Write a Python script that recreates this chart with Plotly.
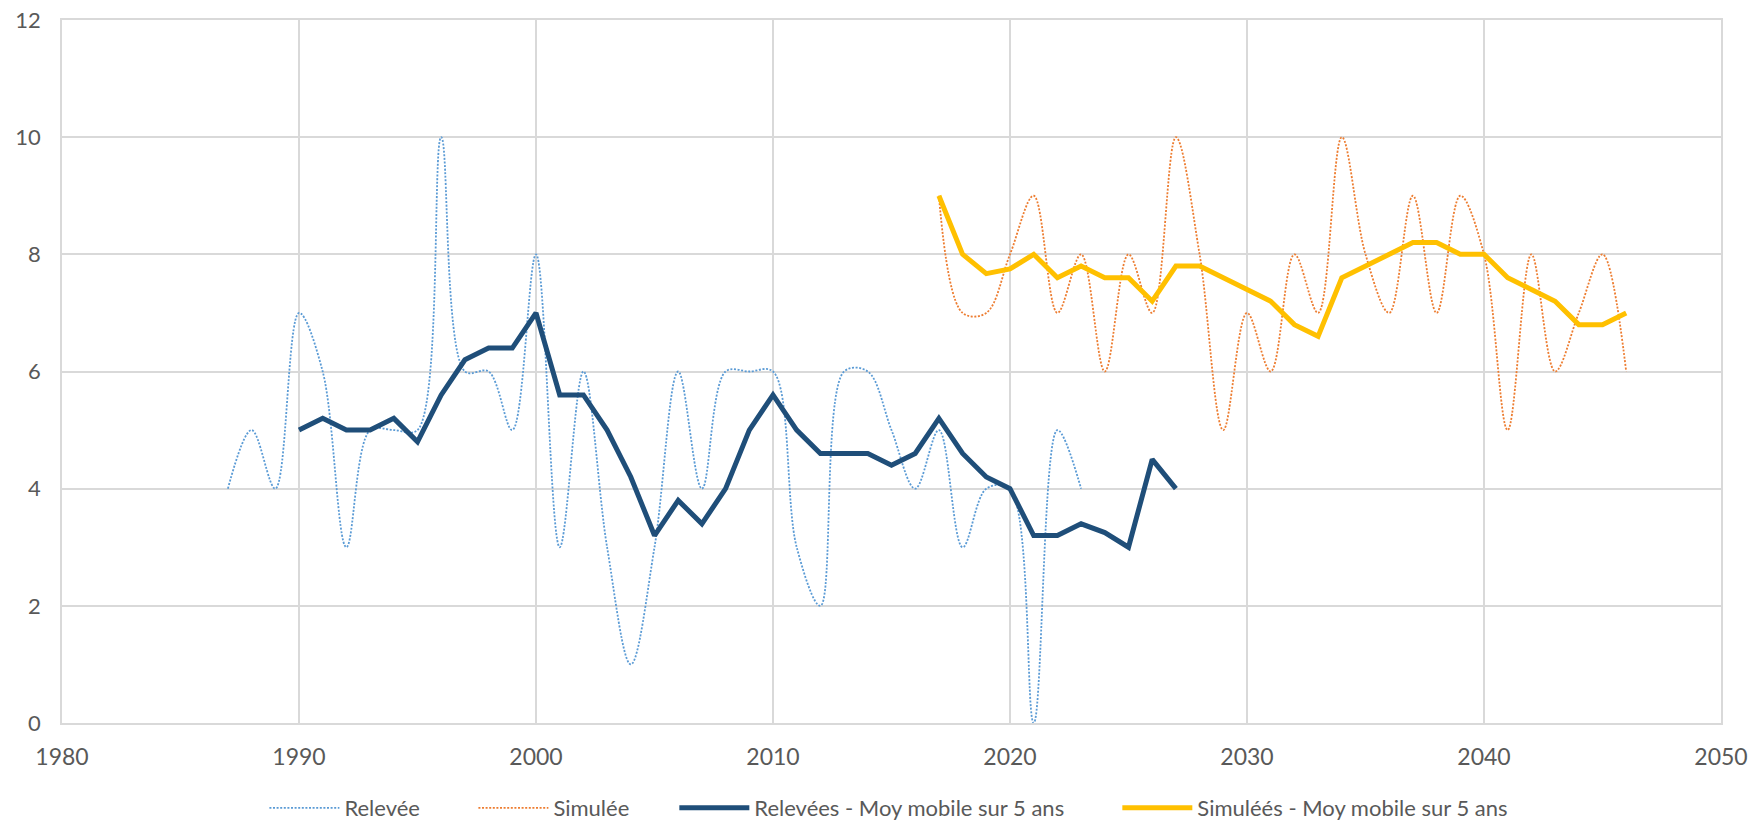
import plotly.graph_objects as go

# Relevée (observed) yearly values
years_rel = list(range(1987, 2024))
releve = [4, 5, 4, 7, 6, 3, 5, 5, 5, 10, 6, 6, 5, 8, 3, 6, 3, 1, 3, 6,
          4, 6, 6, 6, 3, 2, 6, 6, 5, 4, 5, 3, 4, 4, 0, 5, 4]

# Simulée yearly values
years_sim = list(range(2017, 2047))
simule = [9, 7, 7, 8, 9, 7, 8, 6, 8, 7, 10, 8, 5, 7, 6, 8, 7, 10, 8, 7,
          9, 7, 9, 8, 5, 8, 6, 7, 8, 6]

# Relevées - moving average over 5 years
years_rel_ma = list(range(1990, 2028))
releve_ma = [5, 5.2, 5, 5, 5.2, 4.8, 5.6, 6.2, 6.4, 6.4, 7, 5.6, 5.6, 5, 4.2,
             3.2, 3.8, 3.4, 4, 5, 5.6, 5, 4.6, 4.6, 4.6, 4.4, 4.6, 5.2, 4.6,
             4.2, 4, 3.2, 3.2, 3.4, 3.25, 3, 4.5, 4]

# Simulées - moving average over 5 years
years_sim_ma = list(range(2017, 2047))
simule_ma = [9, 8, 7.67, 7.75, 8, 7.6, 7.8, 7.6, 7.6, 7.2, 7.8, 7.8, 7.6, 7.4,
             7.2, 6.8, 6.6, 7.6, 7.8, 8, 8.2, 8.2, 8, 8, 7.6, 7.4, 7.2, 6.8,
             6.8, 7]

x_ticks = [1980, 1990, 2000, 2010, 2020, 2030, 2040, 2050]
y_ticks = [0, 2, 4, 6, 8, 10, 12]

names = ["Relevée", "Simulée", "Relevées - Moy mobile sur 5 ans",
         "Simuléés - Moy mobile sur 5 ans"]

fig = go.Figure()
fig.add_trace(go.Scatter(x=years_rel, y=releve, mode="lines", name=names[0],
                         legend="legend",
                         line=dict(color="#5B9BD5", width=1.8, dash="2px,1.6px",
                                   shape="spline", smoothing=1)))
fig.add_trace(go.Scatter(x=years_sim, y=simule, mode="lines", name=names[1],
                         legend="legend",
                         line=dict(color="#ED7D31", width=1.8, dash="2px,1.6px",
                                   shape="spline", smoothing=1)))
fig.add_trace(go.Scatter(x=years_rel_ma, y=releve_ma, mode="lines",
                         name=names[2], legend="legend2",
                         line=dict(color="#1F4E79", width=5)))
fig.add_trace(go.Scatter(x=years_sim_ma, y=simule_ma, mode="lines",
                         name=names[3], legend="legend2",
                         line=dict(color="#FFC000", width=5)))

font_fam = "Lato, 'Open Sans', sans-serif"
leg_common = dict(orientation="h", y=-0.121, yanchor="middle", xanchor="left",
                  font=dict(size=22, color="#595959"), itemwidth=70,
                  tracegroupgap=0, entrywidthmode="pixels",
                  bgcolor="rgba(0,0,0,0)")
# page body adds an 8px margin, so the figure is sized to fit the window
fig.update_layout(
    width=1742, height=814,
    margin=dict(l=54, r=29, t=12, b=99, autoexpand=False),
    plot_bgcolor="white", paper_bgcolor="white",
    font=dict(family=font_fam, size=22, color="#595959"),
    xaxis=dict(range=[1980, 2050], tickvals=x_ticks, showgrid=True,
               gridcolor="#D9D9D9", gridwidth=1.5, zeroline=False,
               showline=True, linecolor="#D9D9D9", linewidth=1.5, mirror=True,
               ticks="outside", ticklen=13, tickcolor="rgba(0,0,0,0)",
               automargin=False, ticklabeloverflow="allow",
               tickfont=dict(size=23, color="#595959")),
    yaxis=dict(range=[0, 12], tickvals=y_ticks, showgrid=True,
               gridcolor="#D9D9D9", gridwidth=1.5, zeroline=False,
               showline=True, linecolor="#D9D9D9", linewidth=1.5, mirror=True,
               ticks="outside", ticklen=15, tickcolor="rgba(0,0,0,0)",
               automargin=False, ticklabeloverflow="allow",
               tickfont=dict(size=22, color="#595959")),
    legend=dict(x=0.122, entrywidth=124, **leg_common),
    legend2=dict(x=0.3691, entrywidth=358, **leg_common),
    showlegend=True,
)

fig.write_html("out.html")
